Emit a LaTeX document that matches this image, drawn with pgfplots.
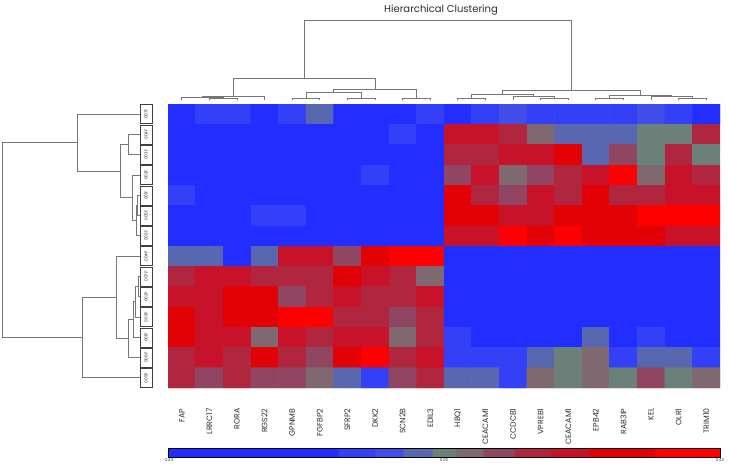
\documentclass[border=0pt]{standalone}
\usepackage{fontspec}
\setmainfont{Poppins}
\usepackage{pgfplots}
\pgfplotsset{compat=1.18}
\usetikzlibrary{calc}
\definecolor{dendro}{RGB}{118,118,118}
\definecolor{lbl}{RGB}{45,45,45}
\pgfplotsset{
  colormap={hm}{
    rgb255(0pt)=(34,46,255) rgb255(307pt)=(34,46,255)
    rgb255(309pt)=(52,64,245) rgb255(373pt)=(52,64,245)
    rgb255(375pt)=(66,78,232) rgb255(425pt)=(66,78,232)
    rgb255(427pt)=(88,104,176) rgb255(478pt)=(88,104,176)
    rgb255(480pt)=(106,128,120) rgb255(520pt)=(106,128,120)
    rgb255(522pt)=(128,104,112) rgb255(570pt)=(128,104,112)
    rgb255(572pt)=(144,70,98) rgb255(626pt)=(144,70,98)
    rgb255(628pt)=(176,38,62) rgb255(692pt)=(176,38,62)
    rgb255(694pt)=(200,18,42) rgb255(760pt)=(200,18,42)
    rgb255(762pt)=(226,2,6) rgb255(879pt)=(226,2,6)
    rgb255(881pt)=(255,0,0) rgb255(1000pt)=(255,0,0)
  },
  dendstyle/.style={axis line style={draw=none}, ticks=none, clip=false},
  dline/.style={draw=dendro, line width=0.9pt, no marks, solid},
}
\begin{document}
\begin{tikzpicture}
\path[use as bounding box] (0pt,0pt) rectangle (729pt,-464pt);

% ---------------- heatmap ----------------
\begin{axis}[
  name=hm,
  at={(168pt,-104pt)}, anchor=north west,
  scale only axis, width=552pt, height=284pt,
  xmin=-0.5, xmax=19.5, ymin=-0.5, ymax=13.5, y dir=reverse,
  axis line style={draw=none}, major tick length=0pt,
  xtick={0,...,19},
  xticklabels={FAP,LRRC17,RORA,RGS22,GPNMB,FGFBP2,SFRP2,DKK2,SCN2B,EDIL3,HBQ1,CEACAM1,CCDCB1,VPREB1,CEACAM1,EPB42,RAB3IP,KEL,OLR1,TRIM10},
  xticklabel style={rotate=90, anchor=east, font=\fontsize{7.8}{8}\selectfont, text=lbl},
  xticklabel shift=17pt,
  ytick={0,...,13},
  yticklabels={007F,004F,003F,002F,001F,005F,006F,004P,007P,002P,003P,001P,006P,005P},
  yticklabel style={rotate=90, anchor=south, draw=black!75, line width=0.5pt,
     minimum width=19pt, minimum height=12pt, inner sep=0pt, outer sep=0pt,
     font=\fontsize{4.2}{4.2}\selectfont, text=lbl},
  yticklabel shift=16pt,
  colormap name=hm, point meta min=-2.43, point meta max=2.43,
  colorbar horizontal,
  colorbar style={
    at={($(parent axis.south west)+(0pt,-52pt)$)}, anchor=north west,
    scale only axis, width=552pt, height=9pt,
    xtick={-2.43,0,2.43}, xticklabels={-2.43,0.00,2.43},
    xticklabel style={font=\fontsize{4}{4}\selectfont, inner sep=1pt, text=lbl},
    major tick length=0pt,
    axis line style={black, line width=0.9pt},
  },
]
\addplot[matrix plot*, mesh/cols=20, point meta=explicit] coordinates {
(0,0)[-1.70] (1,0)[-0.77] (2,0)[-0.77] (3,0)[-1.70] (4,0)[-0.77] (5,0)[-0.23] (6,0)[-1.70] (7,0)[-1.70] (8,0)[-1.70] (9,0)[-0.77] (10,0)[-1.70] (11,0)[-0.77] (12,0)[-0.49] (13,0)[-0.77] (14,0)[-0.77] (15,0)[-0.77] (16,0)[-0.77] (17,0)[-0.49] (18,0)[-0.77] (19,0)[-1.70]

(0,1)[-1.70] (1,1)[-1.70] (2,1)[-1.70] (3,1)[-1.70] (4,1)[-1.70] (5,1)[-1.70] (6,1)[-1.70] (7,1)[-1.70] (8,1)[-0.77] (9,1)[-1.70] (10,1)[1.10] (11,1)[1.10] (12,1)[0.78] (13,1)[0.22] (14,1)[-0.23] (15,1)[-0.23] (16,1)[-0.23] (17,1)[0] (18,1)[0] (19,1)[0.78]

(0,2)[-1.70] (1,2)[-1.70] (2,2)[-1.70] (3,2)[-1.70] (4,2)[-1.70] (5,2)[-1.70] (6,2)[-1.70] (7,2)[-1.70] (8,2)[-1.70] (9,2)[-1.70] (10,2)[0.78] (11,2)[0.78] (12,2)[1.10] (13,2)[1.10] (14,2)[1.56] (15,2)[-0.23] (16,2)[0.49] (17,2)[0] (18,2)[0.78] (19,2)[0]

(0,3)[-1.70] (1,3)[-1.70] (2,3)[-1.70] (3,3)[-1.70] (4,3)[-1.70] (5,3)[-1.70] (6,3)[-1.70] (7,3)[-0.77] (8,3)[-1.70] (9,3)[-1.70] (10,3)[0.49] (11,3)[1.10] (12,3)[0.22] (13,3)[0.49] (14,3)[0.78] (15,3)[1.10] (16,3)[2.14] (17,3)[0.22] (18,3)[1.10] (19,3)[0.78]

(0,4)[-0.77] (1,4)[-1.70] (2,4)[-1.70] (3,4)[-1.70] (4,4)[-1.70] (5,4)[-1.70] (6,4)[-1.70] (7,4)[-1.70] (8,4)[-1.70] (9,4)[-1.70] (10,4)[1.56] (11,4)[0.78] (12,4)[0.49] (13,4)[1.10] (14,4)[0.78] (15,4)[1.56] (16,4)[0.78] (17,4)[0.78] (18,4)[1.10] (19,4)[1.10]

(0,5)[-1.70] (1,5)[-1.70] (2,5)[-1.70] (3,5)[-0.77] (4,5)[-0.77] (5,5)[-1.70] (6,5)[-1.70] (7,5)[-1.70] (8,5)[-1.70] (9,5)[-1.70] (10,5)[1.56] (11,5)[1.56] (12,5)[1.10] (13,5)[1.10] (14,5)[1.56] (15,5)[1.56] (16,5)[1.56] (17,5)[2.14] (18,5)[2.14] (19,5)[2.14]

(0,6)[-1.70] (1,6)[-1.70] (2,6)[-1.70] (3,6)[-1.70] (4,6)[-1.70] (5,6)[-1.70] (6,6)[-1.70] (7,6)[-1.70] (8,6)[-1.70] (9,6)[-1.70] (10,6)[1.10] (11,6)[1.10] (12,6)[2.14] (13,6)[1.56] (14,6)[2.14] (15,6)[1.56] (16,6)[1.56] (17,6)[1.56] (18,6)[1.10] (19,6)[1.10]

(0,7)[-0.23] (1,7)[-0.23] (2,7)[-1.70] (3,7)[-0.23] (4,7)[1.10] (5,7)[1.10] (6,7)[0.49] (7,7)[1.56] (8,7)[2.14] (9,7)[2.14] (10,7)[-1.70] (11,7)[-1.70] (12,7)[-1.70] (13,7)[-1.70] (14,7)[-1.70] (15,7)[-1.70] (16,7)[-1.70] (17,7)[-1.70] (18,7)[-1.70] (19,7)[-1.70]

(0,8)[0.78] (1,8)[1.10] (2,8)[1.10] (3,8)[0.78] (4,8)[0.78] (5,8)[0.78] (6,8)[1.56] (7,8)[1.10] (8,8)[0.78] (9,8)[0.22] (10,8)[-1.70] (11,8)[-1.70] (12,8)[-1.70] (13,8)[-1.70] (14,8)[-1.70] (15,8)[-1.70] (16,8)[-1.70] (17,8)[-1.70] (18,8)[-1.70] (19,8)[-1.70]

(0,9)[1.10] (1,9)[1.10] (2,9)[1.56] (3,9)[1.56] (4,9)[0.49] (5,9)[0.78] (6,9)[1.10] (7,9)[0.78] (8,9)[0.78] (9,9)[1.10] (10,9)[-1.70] (11,9)[-1.70] (12,9)[-1.70] (13,9)[-1.70] (14,9)[-1.70] (15,9)[-1.70] (16,9)[-1.70] (17,9)[-1.70] (18,9)[-1.70] (19,9)[-1.70]

(0,10)[1.56] (1,10)[1.10] (2,10)[1.56] (3,10)[1.56] (4,10)[2.14] (5,10)[2.14] (6,10)[0.78] (7,10)[0.78] (8,10)[0.49] (9,10)[0.78] (10,10)[-1.70] (11,10)[-1.70] (12,10)[-1.70] (13,10)[-1.70] (14,10)[-1.70] (15,10)[-1.70] (16,10)[-1.70] (17,10)[-1.70] (18,10)[-1.70] (19,10)[-1.70]

(0,11)[1.56] (1,11)[1.10] (2,11)[1.10] (3,11)[0.22] (4,11)[1.10] (5,11)[0.78] (6,11)[1.10] (7,11)[1.10] (8,11)[0.22] (9,11)[0.78] (10,11)[-0.77] (11,11)[-1.70] (12,11)[-1.70] (13,11)[-1.70] (14,11)[-1.70] (15,11)[-0.23] (16,11)[-1.70] (17,11)[-0.77] (18,11)[-1.70] (19,11)[-1.70]

(0,12)[0.78] (1,12)[1.10] (2,12)[0.78] (3,12)[1.56] (4,12)[0.78] (5,12)[0.49] (6,12)[1.56] (7,12)[2.14] (8,12)[0.78] (9,12)[1.10] (10,12)[-0.77] (11,12)[-0.77] (12,12)[-0.77] (13,12)[-0.23] (14,12)[0] (15,12)[0.22] (16,12)[-0.77] (17,12)[-0.23] (18,12)[-0.23] (19,12)[-0.77]

(0,13)[0.78] (1,13)[0.49] (2,13)[0.78] (3,13)[0.49] (4,13)[0.49] (5,13)[0.22] (6,13)[-0.23] (7,13)[-0.77] (8,13)[0.49] (9,13)[0.78] (10,13)[-0.23] (11,13)[-0.23] (12,13)[-0.77] (13,13)[0.22] (14,13)[0] (15,13)[0.22] (16,13)[0] (17,13)[0.49] (18,13)[0] (19,13)[0.22]
};
\end{axis}

% ---------------- top dendrogram ----------------
\begin{axis}[
  dendstyle,
  at={(168pt,0pt)}, anchor=north west,
  scale only axis, width=552pt, height=104pt,
  xmin=-0.5, xmax=19.5, ymin=0, ymax=104, y dir=reverse,
]
\node[font=\fontsize{10}{12}\selectfont, text=lbl, anchor=center] at (rel axis cs:0.4946,0.905) {Hierarchical Clustering};
\addplot[dline] coordinates {(1,100) (1,98.5) (2,98.5) (2,100)};
\addplot[dline] coordinates {(0,100) (0,97.5) (1.5,97.5) (1.5,98.5)};
\addplot[dline] coordinates {(0.75,97.5) (0.75,96) (3,96) (3,100)};
\addplot[dline] coordinates {(4,100) (4,98) (5,98) (5,100)};
\addplot[dline] coordinates {(6,100) (6,98) (7,98) (7,100)};
\addplot[dline] coordinates {(4.5,98) (4.5,92.5) (6.5,92.5) (6.5,98)};
\addplot[dline] coordinates {(8,100) (8,98) (9,98) (9,100)};
\addplot[dline] coordinates {(5.5,92.5) (5.5,89.5) (8.5,89.5) (8.5,98)};
\addplot[dline] coordinates {(1.875,96) (1.875,78) (7,78) (7,89.5)};
\addplot[dline] coordinates {(10,100) (10,98.5) (11,98.5) (11,100)};
\addplot[dline] coordinates {(13,100) (13,98) (14,98) (14,100)};
\addplot[dline] coordinates {(12,100) (12,96) (13.5,96) (13.5,98)};
\addplot[dline] coordinates {(10.5,98.5) (10.5,94.5) (12.75,94.5) (12.75,96)};
\addplot[dline] coordinates {(15,100) (15,98) (16,98) (16,100)};
\addplot[dline] coordinates {(18,100) (18,98) (19,98) (19,100)};
\addplot[dline] coordinates {(17,100) (17,96) (18.5,96) (18.5,98)};
\addplot[dline] coordinates {(15.5,98) (15.5,95) (17.75,95) (17.75,96)};
\addplot[dline] coordinates {(11.625,94.5) (11.625,90) (16.625,90) (16.625,95)};
\addplot[dline] coordinates {(4.4375,78) (4.4375,20) (14.125,20) (14.125,90)};
\end{axis}

% ---------------- left dendrogram ----------------
\begin{axis}[
  dendstyle,
  at={(0pt,-104pt)}, anchor=north west,
  scale only axis, width=168pt, height=284pt,
  xmin=0, xmax=168, ymin=-0.5, ymax=13.5, y dir=reverse,
]
\addplot[dline] coordinates {(140,1) (128.3,1) (128.3,2) (140,2)};
\addplot[dline] coordinates {(140,4) (137.5,4) (137.5,5) (140,5)};
\addplot[dline] coordinates {(137.5,4.5) (136,4.5) (136,6) (140,6)};
\addplot[dline] coordinates {(140,3) (132.7,3) (132.7,5.25) (136,5.25)};
\addplot[dline] coordinates {(128.3,1.5) (120.7,1.5) (120.7,4.125) (132.7,4.125)};
\addplot[dline] coordinates {(140,0) (77.7,0) (77.7,2.8125) (120.7,2.8125)};
\addplot[dline] coordinates {(140,8) (138,8) (138,9) (140,9)};
\addplot[dline] coordinates {(138,8.5) (135,8.5) (135,10) (140,10)};
\addplot[dline] coordinates {(135,9.25) (133.3,9.25) (133.3,11) (140,11)};
\addplot[dline] coordinates {(133.3,10.125) (128.3,10.125) (128.3,12) (140,12)};
\addplot[dline] coordinates {(140,7) (116,7) (116,11.0625) (128.3,11.0625)};
\addplot[dline] coordinates {(116,9.03125) (82.7,9.03125) (82.7,13) (140,13)};
\addplot[dline] coordinates {(77.7,1.40625) (2.7,1.40625) (2.7,11.015625) (82.7,11.015625)};
\end{axis}
\end{tikzpicture}
\end{document}
